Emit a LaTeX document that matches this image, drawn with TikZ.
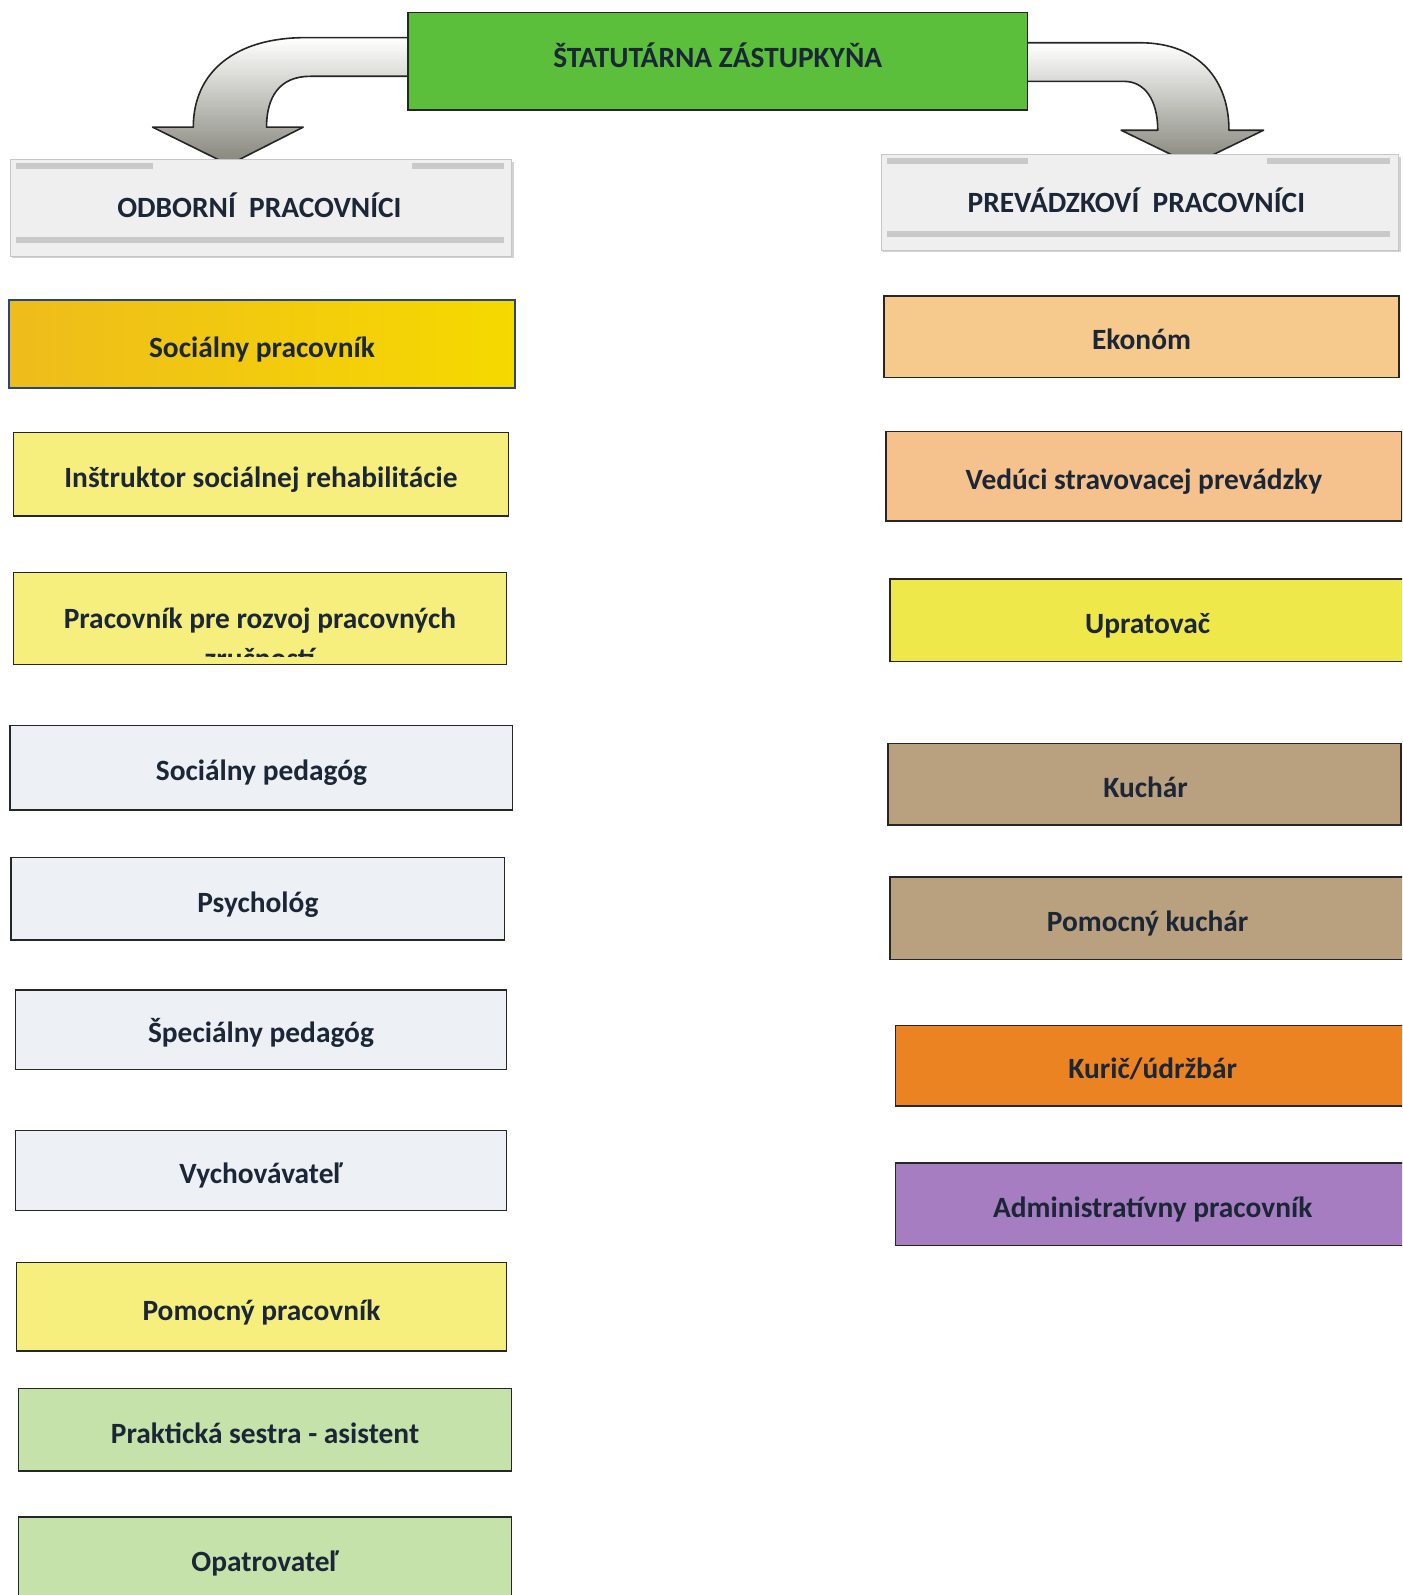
\documentclass[tikz,border=0pt]{standalone}
\usepackage{fontspec}
\setmainfont{Carlito}
\usetikzlibrary{shadows}
\definecolor{txt}{HTML}{1B2636}
\definecolor{topgreen}{HTML}{5CBF3C}
\definecolor{goldL}{HTML}{EEBC1C}
\definecolor{goldR}{HTML}{F6D900}
\definecolor{ltyellow}{HTML}{F6EF7E}
\definecolor{ltgray}{HTML}{EDF0F4}
\definecolor{ltgreen}{HTML}{C5E2AB}
\definecolor{peach}{HTML}{F6C98C}
\definecolor{peach2}{HTML}{F5C28E}
\definecolor{yellow2}{HTML}{EFE84A}
\definecolor{tan}{HTML}{B9A17F}
\definecolor{orange2}{HTML}{EC8322}
\definecolor{purple2}{HTML}{A67DC0}
\definecolor{arrowdark}{HTML}{84847A}
\definecolor{hdrfill}{HTML}{EFEFEF}
\definecolor{hdrband}{HTML}{C9C9C9}
\tikzset{
  lbl/.style={font=\fontsize{28.9}{34}\selectfont\bfseries, text=txt, text height=30pt, text depth=4pt},
  box/.style={draw=black!85, line width=1.4pt, lbl, inner sep=0pt},
  hdrbox/.style={draw=black!22, line width=1pt, fill=hdrfill,
     drop shadow={shadow xshift=2pt, shadow yshift=-2pt, opacity=0.35}},
  bigarrow/.style={draw=black!85, line width=1.6pt, top color=white, bottom color=arrowdark, line join=round}
}
\begin{document}
\begin{tikzpicture}[x=1pt,y=-1pt,scale=1.0174,transform shape]
\useasboundingbox (0,0) rectangle (1378.1,1567.8);
\clip (0,0) rectangle (1378.1,1567.8);
\fill[white] (0,0) rectangle (1378.1,1567.8);

% curved arrows
\draw[bigarrow] (402,37) -- (300,37) .. controls (232,37) and (190,70) .. (190,125)
   -- (150,125) -- (225,162) -- (298,125) -- (262,125)
   .. controls (262,95) and (275,75) .. (305,75) -- (402,75) -- cycle;
\draw[bigarrow] (1009,42) -- (1120,42) .. controls (1180,42) and (1208,80) .. (1208,128)
   -- (1242,128) -- (1172,162) -- (1102,128) -- (1138,128)
   .. controls (1138,98) and (1125,80) .. (1105,80) -- (1009,80) -- cycle;

% top box
\node[box, fill=topgreen, minimum width=609pt, minimum height=96pt,
      text height=16.6pt, text depth=4pt] (top) at (705.5,60) {ŠTATUTÁRNA ZÁSTUPKYŇA};

% headers
\path[hdrbox] (10,157) rectangle (503,252);
\fill[hdrband] (16,160) rectangle (150,166);
\fill[hdrband] (405,160) rectangle (495,166);
\fill[hdrband] (16,233) rectangle (495,239);
\node[lbl, text height=20pt] (odb) at (255,206) {ODBORNÍ\ \ PRACOVNÍCI};

\path[hdrbox] (866,152) rectangle (1375,246);
\fill[hdrband] (872,155) rectangle (1010,161);
\fill[hdrband] (1245,155) rectangle (1366,161);
\fill[hdrband] (872,227) rectangle (1366,233);
\node[lbl, text height=20pt] (prev) at (1117,201) {PREVÁDZKOVÍ\ \ PRACOVNÍCI};

% left column
\node[box, draw={rgb,255:red,40;green,70;blue,120}, line width=2pt, left color=goldL, right color=goldR,
      minimum width=497pt, minimum height=86pt] (sp) at (257.5,338) {Sociálny pracovník};
\node[box, fill=ltyellow, minimum width=487pt, minimum height=82pt] (inst) at (256.5,466) {Inštruktor sociálnej rehabilitácie};
\node[box, fill=ltyellow, minimum width=485pt, minimum height=90pt] (rozvoj) at (255.5,608) {};
\begin{scope}
\clip (14,564) rectangle (497,645);
\node[lbl, anchor=base] (rozvoj1) at (255.5,618) {Pracovník pre rozvoj pracovných};
\node[lbl, anchor=base] (rozvoj2) at (255.5,657) {zručností};
\end{scope}
\node[box, fill=ltgray, minimum width=494pt, minimum height=83pt] (sped) at (257,754.5) {Sociálny pedagóg};
\node[box, fill=ltgray, minimum width=485pt, minimum height=81pt] (psy) at (253.5,883.5) {Psychológ};
\node[box, fill=ltgray, minimum width=483pt, minimum height=78pt] (spec) at (256.5,1012) {Špeciálny pedagóg};
\node[box, fill=ltgray, minimum width=483pt, minimum height=79pt] (vych) at (256.5,1150.5) {Vychovávateľ};
\node[box, fill=ltyellow, minimum width=482pt, minimum height=87pt] (pomp) at (257,1284.5) {Pomocný pracovník};
\node[box, fill=ltgreen, minimum width=485pt, minimum height=81pt] (prak) at (260.5,1405.5) {Praktická sestra - asistent};
\draw[box, fill=ltgreen] (18,1491) rectangle (503,1660);
\node[lbl] (opat) at (260.5,1531.5) {Opatrovateľ};

% right column
\node[box, fill=peach, minimum width=506pt, minimum height=80pt] (ekon) at (1122,331) {Ekonóm};
\node[box, fill=peach2, minimum width=507pt, minimum height=88pt] (ved) at (1124.5,468) {Vedúci stravovacej prevádzky};
\draw[box, fill=yellow2] (875,569) rectangle (1430,650);
\node[lbl] (uprat) at (1128,609.5) {Upratovač};
\draw[box, fill=tan] (873,731) rectangle (1377,811);
\node[lbl] (kuch) at (1126,771) {Kuchár};
\draw[box, fill=tan] (875,862) rectangle (1430,943);
\node[lbl] (pkuch) at (1128,902.5) {Pomocný kuchár};
\draw[box, fill=orange2] (880,1008) rectangle (1430,1087);
\node[lbl] (kuric) at (1133,1047.5) {Kurič/údržbár};
\draw[box, fill=purple2] (880,1143) rectangle (1430,1224);
\node[lbl] (admin) at (1133,1183.5) {Administratívny pracovník};
\end{tikzpicture}
\end{document}
